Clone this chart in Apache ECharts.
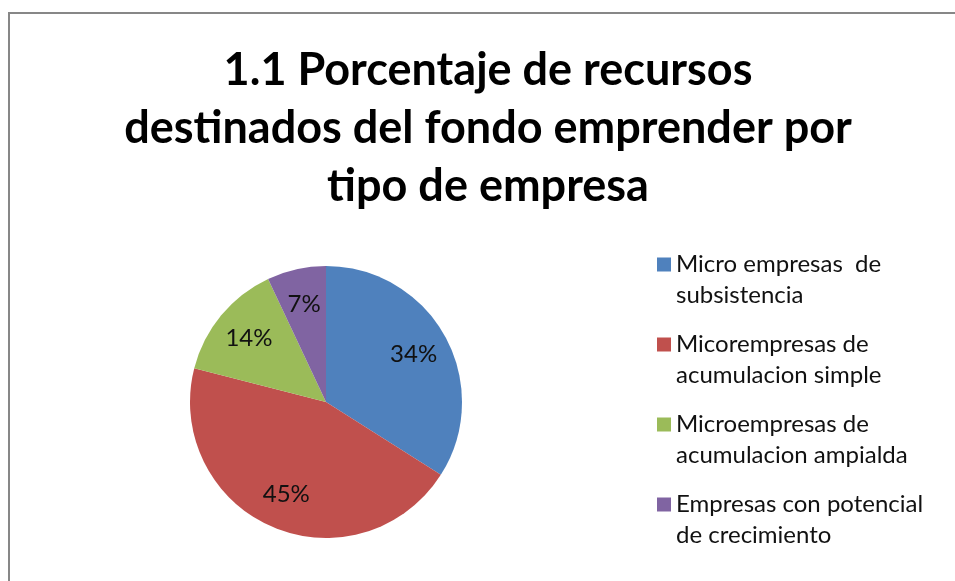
<!DOCTYPE html>
<html>
<head>
<meta charset="utf-8">
<script src="https://cdn.jsdelivr.net/npm/echarts@6/dist/echarts.min.js"></script>
<style>
  html, body { margin: 0; padding: 0; background: #fff; overflow: hidden; }
  #frame { position: absolute; left: 8px; top: 12px; width: 960px; height: 600px;
           border-left: 2px solid #878787; border-top: 2px solid #878787; }
  #chart { position: absolute; left: 0; top: 0; width: 955px; height: 581px; }
</style>
</head>
<body>
<div id="frame"></div>
<div id="chart"></div>
<script>
// datos del gráfico
const titleLines = ['1.1 Porcentaje de recursos', 'destinados del fondo emprender por', 'tipo de empresa'];
const categories = [
  'Micro empresas  de\nsubsistencia',
  'Micorempresas de\nacumulacion simple',
  'Microempresas de\nacumulacion ampialda',
  'Empresas con potencial\nde crecimiento'
];
const values = [34, 45, 14, 7];
const colors = ['#4F81BD', '#C0504D', '#9BBB59', '#8064A2'];

(function () {
  'use strict';
  const FONT = 'Lato';
  const chart = echarts.init(document.getElementById('chart'), null, { renderer: 'canvas' });
  const pieData = categories.map((name, i) => ({ name, value: values[i], itemStyle: { color: colors[i] } }));

  chart.setOption({
    backgroundColor: 'transparent',
    animation: false,
    title: {
      text: titleLines.join('\n'),
      left: 488,
      top: 41,
      padding: 0,
      textAlign: 'center',
      textVerticalAlign: 'top',
      textStyle: { fontFamily: FONT, fontWeight: 'bold', fontSize: 45, lineHeight: 58, color: '#000' }
    },
    legend: {
      orient: 'vertical',
      left: 657,
      top: 218,
      padding: 0,
      itemWidth: 14,
      itemHeight: 14,
      itemGap: -13,
      icon: 'rect',
      selectedMode: false,
      data: categories,
      // línea vacía delante: así el cuadro queda a la altura de la primera línea
      formatter: name => '\n' + name,
      textStyle: { fontFamily: FONT, fontSize: 24, lineHeight: 31, color: '#111' }
    },
    series: [
      {
        type: 'pie',
        center: [326, 402],
        radius: [0, 136],
        silent: true,
        label: { show: false },
        labelLine: { show: false },
        data: pieData
      },
      {
        // capa transparente solo para colocar las etiquetas de porcentaje
        type: 'pie',
        center: [326, 402],
        radius: [58, 136],
        silent: true,
        itemStyle: { color: 'transparent' },
        label: { show: true, position: 'inside', formatter: '{c}%', fontFamily: FONT, fontSize: 24, color: '#111' },
        labelLine: { show: false },
        data: categories.map((name, i) => ({ name: name, value: values[i], itemStyle: { color: 'transparent' } }))
      }
    ]
  });
})();
</script>
</body>
</html>
